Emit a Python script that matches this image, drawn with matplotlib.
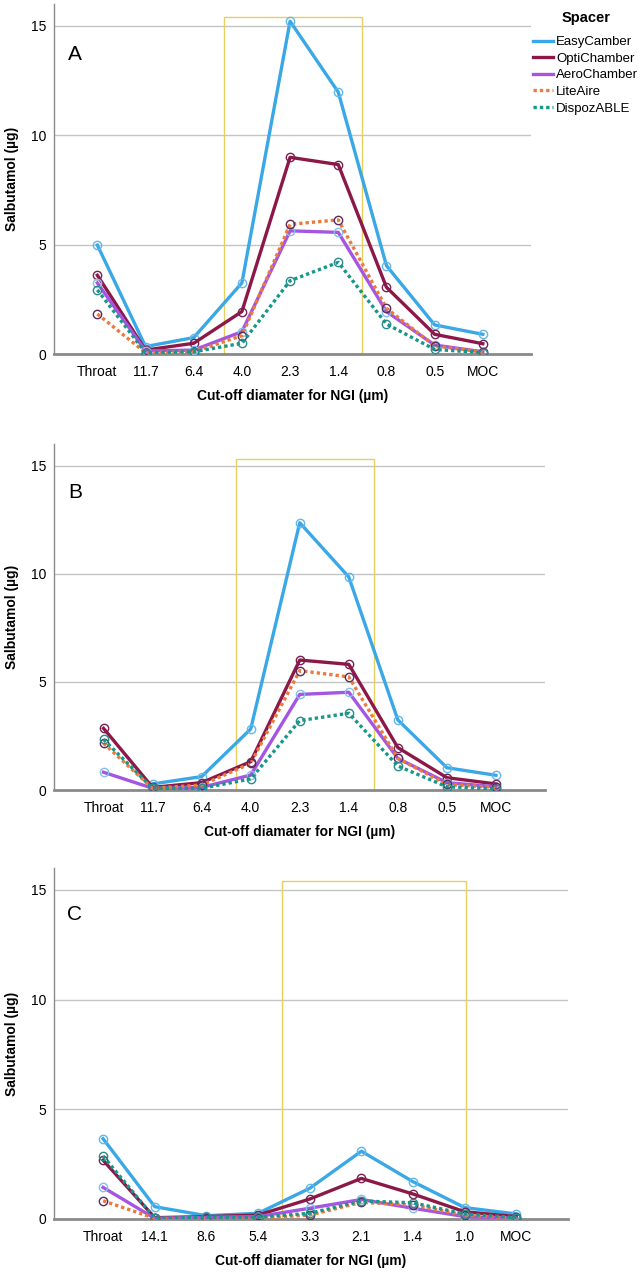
import numpy as np
import matplotlib
matplotlib.use("Agg")
from matplotlib import pyplot as plt
from matplotlib.lines import Line2D
from matplotlib.patches import Rectangle

plt.rcParams['font.family'] = ['Liberation Sans', 'DejaVu Sans']

spacers = ['EasyCamber', 'OptiChamber', 'AeroChamber', 'LiteAire', 'DispozABLE']

stages_ab = ['Throat', '11.7', '6.4', '4.0', '2.3', '1.4', '0.8', '0.5', 'MOC']
stages_c = ['Throat', '14.1', '8.6', '5.4', '3.3', '2.1', '1.4', '1.0', 'MOC']

# panel A
easy_a = [4.98, 0.34, 0.75, 3.25, 15.21, 11.97, 4.04, 1.33, 0.90]
opti_a = [3.60, 0.18, 0.49, 1.94, 8.99, 8.66, 3.05, 0.90, 0.47]
aero_a = [3.25, 0.14, 0.18, 1.02, 5.63, 5.56, 1.94, 0.41, 0.10]
lite_a = [1.83, 0.06, 0.10, 0.84, 5.93, 6.13, 2.09, 0.37, 0.09]
dispoz_a = [2.93, 0.06, 0.10, 0.49, 3.35, 4.19, 1.37, 0.21, 0.06]

# panel B (no EasyCamber value for throat)
easy_b = [np.nan, 0.28, 0.62, 2.82, 12.36, 9.85, 3.24, 1.03, 0.68]
opti_b = [2.85, 0.12, 0.34, 1.31, 6.01, 5.81, 1.96, 0.57, 0.28]
aero_b = [0.82, 0.08, 0.12, 0.69, 4.42, 4.52, 1.46, 0.34, 0.15]
lite_b = [2.16, 0.08, 0.23, 1.23, 5.52, 5.23, 1.46, 0.26, 0.12]
dispoz_b = [2.34, 0.08, 0.08, 0.51, 3.21, 3.55, 1.11, 0.15, 0.05]

# panel C
easy_c = [3.66, 0.56, 0.15, 0.26, 1.40, 3.09, 1.70, 0.52, 0.23]
opti_c = [2.68, 0.06, 0.11, 0.18, 0.91, 1.85, 1.14, 0.33, 0.11]
aero_c = [1.44, 0.03, 0.08, 0.11, 0.49, 0.89, 0.49, 0.11, 0.03]
lite_c = [0.83, 0.03, 0.03, 0.03, 0.18, 0.76, 0.64, 0.18, 0.03]
dispoz_c = [2.87, 0.03, 0.08, 0.08, 0.26, 0.82, 0.74, 0.23, 0.06]

line_colors = ['#3aa8e6', '#8c1848', '#a456e2', '#ec7a3c', '#17978a']
marker_colors = ['#62b8ec', '#7a2050', '#86bfee', '#5a2a5e', '#2a8c8a']
styles = ['-', '-', '-', (0, (1, 0.9)), (0, (1, 0.9))]

fig = plt.figure(figsize=(6.43, 12.8), dpi=100)
W, H = 643, 1280

# letter, ticks, series, pixel box (left, right, bottom, top), xlim, highlight box, letter y
panels = [
    ('A', stages_ab, [easy_a, opti_a, aero_a, lite_a, dispoz_a], (53.5, 531, 354, 4), (-0.91, 9.0), (2.63, 5.5, 15.4), 55),
    ('B', stages_ab, [easy_b, opti_b, aero_b, lite_b, dispoz_b], (53.5, 545, 790, 444), (-1.02, 9.0), (2.71, 5.51, 15.3), 493),
    ('C', stages_c, [easy_c, opti_c, aero_c, lite_c, dispoz_c], (53.5, 568, 1219, 868), (-0.96, 9.0), (3.47, 7.02, 15.4), 915),
]

for letter, stages, series, (l, r, b, t), xl, (bx0, bx1, btop), ly in panels:
    ax = fig.add_axes([l / W, 1 - b / H, (r - l) / W, (b - t) / H])
    x = np.arange(len(stages))
    for name, vals, lc, mc, ls in zip(spacers, series, line_colors, marker_colors, styles):
        ax.plot(x, vals, color=lc, lw=2.4, ls=ls, marker='o', ms=6,
                mfc='none', mec=mc, mew=1.0, label=name, zorder=3)
    ax.add_patch(Rectangle((bx0, 0), bx1 - bx0, btop, fill=False,
                           edgecolor='#e8d060', lw=1.0, zorder=2))
    ax.set_xlim(*xl)
    ax.set_ylim(0, 16)
    ax.set_xticks(x)
    ax.set_xticklabels(stages, fontsize=10)
    ax.set_yticks([0, 5, 10, 15])
    ax.set_yticklabels(['0', '5', '10', '15'], fontsize=10)
    ax.tick_params(length=0, pad=8)
    ax.tick_params(axis='y', pad=5)
    ax.grid(axis='y', color='#c4c4c4', lw=1.0)
    ax.set_axisbelow(True)
    for s in ['top', 'right']:
        ax.spines[s].set_visible(False)
    ax.spines['left'].set_color('#8a8a8a')
    ax.spines['left'].set_linewidth(1.0)
    ax.spines['bottom'].set_color('#8a8a8a')
    ax.spines['bottom'].set_linewidth(2.0)
    ax.set_xlabel('Cut-off diamater for NGI (µm)', fontsize=10, fontweight='bold')
    ax.xaxis.set_label_coords(0.5, -42 / (b - t))
    ax.xaxis.label.set_va('center')
    ax.set_ylabel('Salbutamol (µg)', fontsize=10, fontweight='bold')
    ax.yaxis.set_label_coords((12 - l) / (r - l), 0.5)
    ax.yaxis.label.set_va('center')
    ax.text((75 - l) / (r - l), (b - ly) / (b - t), letter, transform=ax.transAxes,
            fontsize=15, ha='center', va='center')

handles = [Line2D([], [], color=c, lw=2.4, ls=s) for c, s in zip(line_colors, styles)]
fig.text(586 / W, 1 - 18 / H, 'Spacer', fontsize=10.5, fontweight='bold', ha='center', va='center')
fig.legend(handles, spacers, loc='upper left', bbox_to_anchor=(533 / W, 1 - 36 / H),
           frameon=False, fontsize=9.5, handlelength=1.5, handletextpad=0.25,
           labelspacing=0.33, borderpad=0, borderaxespad=0)

fig.savefig('out.png', dpi=100)
